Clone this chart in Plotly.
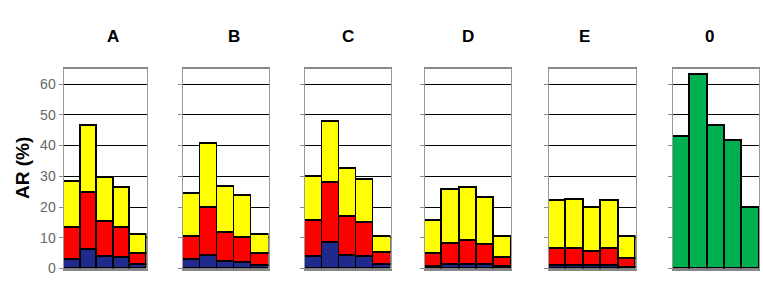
import plotly.graph_objects as go

W, H = 763, 307
panels = ["A", "B", "C", "D", "E", "0"]
cats = ["1", "2", "3", "4", "5"]

blue = {
    "A": [3.0, 6.1, 4.0, 3.4, 1.4],
    "B": [3.0, 4.2, 2.3, 1.9, 1.0],
    "C": [3.9, 8.4, 4.2, 3.8, 1.4],
    "D": [0.7, 1.3, 1.3, 1.3, 0.7],
    "E": [0.9, 0.9, 0.8, 0.9, 0.3],
}
red = {
    "A": [10.3, 18.6, 11.3, 10.0, 3.5],
    "B": [7.2, 15.5, 9.4, 8.0, 3.7],
    "C": [11.6, 19.6, 12.6, 11.2, 3.9],
    "D": [4.2, 6.9, 7.7, 6.3, 2.9],
    "E": [5.4, 5.6, 4.7, 5.7, 2.9],
}
yellow = {
    "A": [15.0, 21.9, 14.3, 12.8, 6.1],
    "B": [14.1, 20.9, 14.8, 13.7, 6.4],
    "C": [14.3, 19.9, 15.6, 13.8, 5.2],
    "D": [10.7, 17.3, 17.3, 15.4, 6.8],
    "E": [15.6, 16.0, 14.3, 15.4, 7.2],
}
green = [43.0, 62.9, 46.5, 41.7, 19.7]
yticks = [0, 10, 20, 30, 40, 50, 60]

boxes = [(63.5, 146.5), (183, 268.5), (305, 390.5), (424.5, 511), (548.5, 635.5), (672.5, 759)]
top_px, bot_px = 68.7, 268.5

fig = go.Figure()
line = dict(color="black", width=1.5)
for i, p in enumerate(panels):
    xa = "x" if i == 0 else f"x{i+1}"
    ya = "y" if i == 0 else f"y{i+1}"
    if p != "0":
        for vals, col in [(blue[p], "#1F2A8C"), (red[p], "#FF0000"), (yellow[p], "#FFFF00")]:
            fig.add_trace(go.Bar(x=cats, y=vals, marker=dict(color=col, line=line),
                                 xaxis=xa, yaxis=ya, showlegend=False))
    else:
        fig.add_trace(go.Bar(x=cats, y=green, marker=dict(color="#00B050", line=line),
                             xaxis=xa, yaxis=ya, showlegend=False))
    l, r = boxes[i]
    xkey = "xaxis" if i == 0 else f"xaxis{i+1}"
    ykey = "yaxis" if i == 0 else f"yaxis{i+1}"
    fig.layout[xkey] = dict(domain=[l / W, r / W], anchor=ya, showticklabels=False,
                            ticks="", showgrid=False, showline=True, linecolor="#888",
                            linewidth=2, mirror=True, range=[-0.5, 4.5], fixedrange=True,
                            automargin=False)
    fig.layout[ykey] = dict(domain=[(H - bot_px) / H, (H - top_px) / H], anchor=xa,
                            range=[0, 65], tickvals=yticks, showticklabels=(i == 0),
                            ticks="outside", ticklen=4, tickcolor="#888",
                            showgrid=True, gridcolor="black", gridwidth=1,
                            showline=True, linecolor="#999", linewidth=1, mirror=True,
                            zeroline=False, automargin=False,
                            tickfont=dict(family="Arial, Liberation Sans", size=14, color="#666"),
                            fixedrange=True)
    fig.add_annotation(text=f"<b>{p}</b>", x=(l + r) / 2 / W, y=(H - 36) / H,
                       xref="paper", yref="paper", showarrow=False, yanchor="middle",
                       font=dict(family="Arial, Liberation Sans", size=17, color="black"))

fig.add_annotation(text="<b>AR (%)</b>", x=22 / W, y=(H - 168) / H, xref="paper", yref="paper",
                   showarrow=False, textangle=-90, xanchor="center", yanchor="middle",
                   font=dict(family="Arial, Liberation Sans", size=19, color="black"))

fig.update_layout(barmode="stack", bargap=0, width=W, height=H,
                  margin=dict(l=0, r=0, t=0, b=0, autoexpand=False),
                  plot_bgcolor="white", paper_bgcolor="white")
fig.write_html("out.html", config={"displayModeBar": False},
               post_script="document.body.style.margin='0';document.body.style.overflow='hidden';")
